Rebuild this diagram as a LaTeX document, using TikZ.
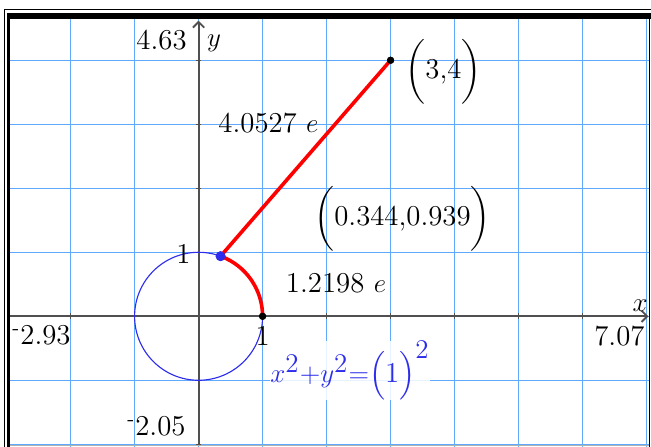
\documentclass[tikz,border=0pt]{standalone}
\usepackage{amsmath}
\usepackage{tikz}
\usetikzlibrary{arrows.meta}
\definecolor{gridblue}{RGB}{95,170,255}
\definecolor{curveblue}{RGB}{45,45,235}
\definecolor{axisgray}{RGB}{80,80,80}
\tikzset{
  gridline/.style={gridblue, line width=0.65pt},
  axisline/.style={axisgray, line width=0.85pt, -{Straight Barb[length=2.5pt,width=5pt]}},
  tickmark/.style={axisgray, line width=0.6pt},
  lbl/.style={inner sep=0pt, font=\fontsize{12.8}{15}\selectfont},
  ptmark/.style={circle, fill, inner sep=0pt, minimum size=#1},
  seg/.style={red, line width=1.6pt}
}
\newcommand{\nm}{\textsuperscript{-}}

\begin{document}
\begin{tikzpicture}
\useasboundingbox (-3.103,-2.042) rectangle (7.069,4.942);
\fill[white] (-3.103,-2.042) rectangle (7.069,4.942);
% grid
\begin{scope}
\clip (-2.947,-2.03) rectangle (7.04,4.641);
\foreach \x in {-2,...,7} \draw[gridline] (\x,-2.05) -- (\x,4.7);
\foreach \y in {-2,...,4} \draw[gridline] (-3,\y) -- (7.1,\y);
\end{scope}
% axes
\coordinate (xl) at (-2.947,0); \coordinate (xr) at (7.03,0);
\coordinate (yb) at (0,-2.03);  \coordinate (yt) at (0,4.62);
\draw[axisline] (xl) -- (xr);
\draw[axisline] (yb) -- (yt);
\foreach \x in {-2,-1,1,2,...,6} \draw[tickmark] (\x,-0.045) -- (\x,0.045);
\foreach \y in {-2,-1,1,2,3,4} \draw[tickmark] (-0.045,\y) -- (0.045,\y);
% circle, arc and segment
\coordinate (O) at (0,0);
\draw[curveblue, line width=0.5pt] (O) circle[radius=1];
\node[ptmark=4.4pt, curveblue] (P) at (0.344,0.939) {};
\node[ptmark=3.2pt, black] (Q) at (1,0) {};
\node[ptmark=3.2pt, black] (A) at (3,4) {};
\draw[seg] (Q.center) arc[start angle=0, end angle=69.88, radius=1];
\draw[seg] (P.center) -- (A.center);
\node[ptmark=4.4pt, curveblue] at (P) {};
\node[ptmark=3.2pt, black] at (Q) {};
\node[ptmark=3.2pt, black] at (A) {};
% labels
\node[lbl, anchor=east] (ymax) at (-0.18,4.31) {4.63};
\node[lbl] (ylab) at (0.24,4.27) {$y$};
\node[lbl] (xlab) at (6.90,0.16) {$x$};
\node[lbl, anchor=west] (xmin) at (-2.916,-0.30) {\nm2.93};
\node[lbl, anchor=east] (xmax) at (6.975,-0.31) {7.07};
\node[lbl, anchor=east] (ymin) at (-0.197,-1.72) {\nm2.05};
\node[lbl] (yone) at (-0.236,0.98) {1};
\node[lbl] (xone) at (1.0,-0.30) {1};
\node[lbl] (lA) at (3.826,3.825) {$\biggl($3,4$\biggr)$};
\node[lbl] (lP) at (3.186,1.528) {$\biggl($0.344,0.939$\biggr)$};
\node[lbl] (lseg) at (1.092,3.02) {4.0527 $e$};
\node[lbl] (larc) at (2.147,0.52) {1.2198 $e$};
\node[lbl, text=curveblue, fill=white, fill opacity=.85, text opacity=1, anchor=base west] (leq) at (1.115,-1.027)
  {$x^{\textstyle 2}{+}y^{\textstyle 2}{=}\Bigl(\text{1}\Bigr)^{\textstyle 2}$};
% frame
\draw[line width=0.45pt] (-3.025,-2.1) |- (7.1,4.794);
\fill (-2.989,4.641) rectangle (7.1,4.744);
\fill (-2.989,-2.1) rectangle (-2.947,4.744);
\fill (7.033,-2.1) rectangle (7.06,4.744);
\draw[gray!60, line width=0.45pt] (-2.947,-2.026) -- (7.033,-2.026);
\end{tikzpicture}
\end{document}
